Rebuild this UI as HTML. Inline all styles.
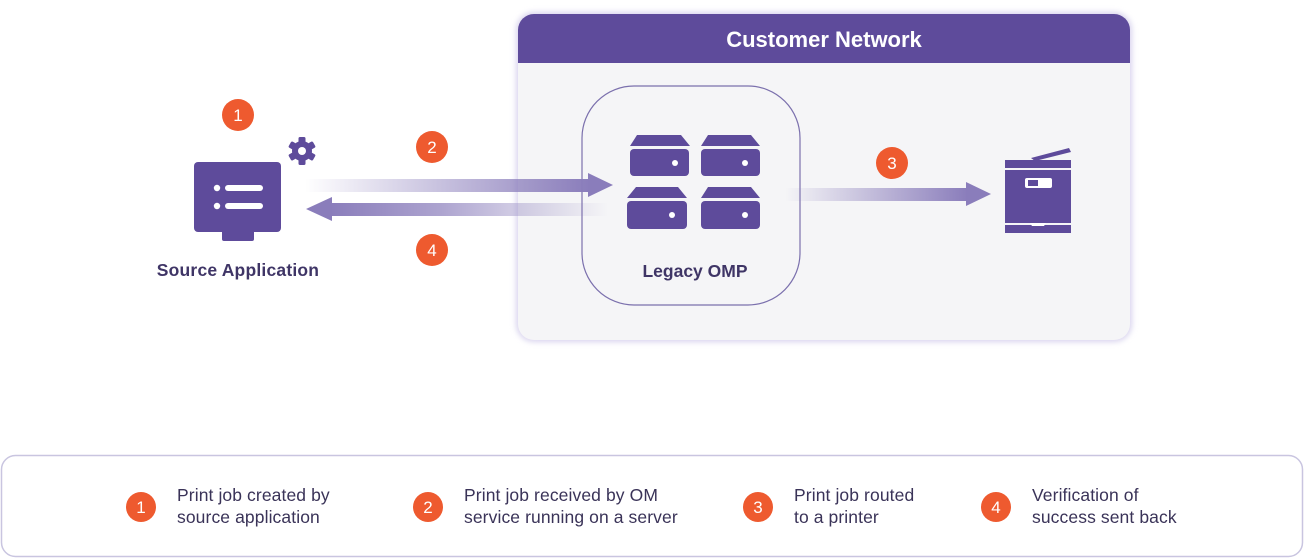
<!DOCTYPE html>
<html><head><meta charset="utf-8"><style>
html,body{margin:0;padding:0;background:#fff;}
svg{display:block;}
text{font-family:"Liberation Sans",sans-serif;}
</style></head><body>
<svg width="1304" height="559" viewBox="0 0 1304 559" xmlns="http://www.w3.org/2000/svg">
<defs>
<linearGradient id="gR" x1="0" x2="1" y1="0" y2="0"><stop offset="0" stop-color="#8a7dbb" stop-opacity="0"/><stop offset="1" stop-color="#8a7dbb"/></linearGradient>
<linearGradient id="gL" x1="1" x2="0" y1="0" y2="0"><stop offset="0" stop-color="#8a7dbb" stop-opacity="0"/><stop offset="0.6" stop-color="#8a7dbb" stop-opacity="0.7"/><stop offset="1" stop-color="#8a7dbb"/></linearGradient>
<filter id="sh" x="-5%" y="-5%" width="110%" height="110%"><feGaussianBlur stdDeviation="3"/></filter>
</defs>
<rect x="516" y="12" width="616" height="330" rx="18" fill="#d9d4ee" filter="url(#sh)"/>
<rect x="518" y="14" width="612" height="326" rx="16" fill="#f5f5f7"/>
<path d="M518 63 V30 a16 16 0 0 1 16 -16 H1114 a16 16 0 0 1 16 16 V63 Z" fill="#5e4b9b"/>
<text x="824" y="47" text-anchor="middle" font-size="22" font-weight="bold" fill="#fff">Customer Network</text>
<rect x="582" y="86" width="218" height="219" rx="52" fill="none" stroke="#7b70ad" stroke-width="1.2"/>
<g fill="#5e4b9b">
<path d="M637 135 H681 L690 146 H630 Z"/><rect x="630" y="149" width="59" height="27" rx="4"/>
<path d="M708 135 H751 L760 146 H701 Z"/><rect x="701" y="149" width="59" height="27" rx="4"/>
<path d="M636 187 H678 L687 198 H627 Z"/><rect x="627" y="201" width="60" height="28" rx="4"/>
<path d="M708 187 H751 L760 198 H701 Z"/><rect x="701" y="201" width="59" height="28" rx="4"/>
</g>
<g fill="#fff"><circle cx="675" cy="163" r="3"/><circle cx="745" cy="163" r="3"/><circle cx="672" cy="215" r="3"/><circle cx="745" cy="215" r="3"/></g>
<text x="695" y="277" text-anchor="middle" font-size="17.5" font-weight="bold" fill="#3f3566">Legacy OMP</text>
<rect x="305" y="179" width="285" height="13" fill="url(#gR)"/>
<path d="M588 173 L613 185 L588 197 Z" fill="#8a7dbb"/>
<rect x="330" y="203" width="278" height="13" fill="url(#gL)"/>
<path d="M332 197 L306 209 L332 221 Z" fill="#8a7dbb"/>
<rect x="785" y="188" width="183" height="13" fill="url(#gR)"/>
<path d="M966 182 L991 194 L966 206 Z" fill="#8a7dbb"/>
<g fill="#5e4b9b">
<path d="M1031 158 L1069 148 L1071 152 L1035 161 Z"/>
<rect x="1005" y="160" width="66" height="8"/>
<rect x="1005" y="170" width="66" height="53"/>
<rect x="1005" y="225" width="66" height="8"/>
</g>
<rect x="1025" y="178" width="27" height="10" rx="2" fill="#fff"/>
<rect x="1028" y="180" width="10" height="6" fill="#5e4b9b"/>
<path d="M1030 223 h16 l-2 3 h-12 z" fill="#fff"/>
<rect x="194" y="162" width="87" height="70" rx="4" fill="#5e4b9b"/>
<rect x="222" y="230" width="32" height="11" rx="2" fill="#5e4b9b"/>
<g fill="#fff"><circle cx="217" cy="188" r="3.2"/><circle cx="217" cy="206" r="3.2"/>
<rect x="225" y="185" width="38" height="6" rx="3"/><rect x="225" y="203" width="38" height="6" rx="3"/></g>
<g transform="translate(302,151)" fill="#5e4b9b">
<circle r="10"/>
<g><rect x="-3.5" y="-14" width="7" height="28" rx="1.5"/><rect x="-3.5" y="-14" width="7" height="28" rx="1.5" transform="rotate(60)"/><rect x="-3.5" y="-14" width="7" height="28" rx="1.5" transform="rotate(120)"/></g>
<circle r="4" fill="#fff"/>
</g>
<text x="238" y="276" text-anchor="middle" font-size="17.5" font-weight="bold" letter-spacing="0.2" fill="#3f3566">Source Application</text>
<g font-size="17" fill="#fff" text-anchor="middle">
<circle cx="238" cy="115" r="16" fill="#ee5a2f"/><text x="238" y="121">1</text>
<circle cx="432" cy="147" r="16" fill="#ee5a2f"/><text x="432" y="153">2</text>
<circle cx="432" cy="250" r="16" fill="#ee5a2f"/><text x="432" y="256">4</text>
<circle cx="892" cy="163" r="16" fill="#ee5a2f"/><text x="892" y="169">3</text>
</g>
<rect x="1.5" y="455.5" width="1301" height="101" rx="14" fill="#fff" stroke="#c9c5e0" stroke-width="1.5"/>
<g font-size="17" fill="#fff" text-anchor="middle">
<circle cx="141" cy="507" r="15" fill="#ee5a2f"/><text x="141" y="513">1</text>
<circle cx="428" cy="507" r="15" fill="#ee5a2f"/><text x="428" y="513">2</text>
<circle cx="758" cy="507" r="15" fill="#ee5a2f"/><text x="758" y="513">3</text>
<circle cx="996" cy="507" r="15" fill="#ee5a2f"/><text x="996" y="513">4</text>
</g>
<g font-size="17.5" fill="#3a3358" letter-spacing="0.1">
<text x="177" y="501">Print job created by</text><text x="177" y="523">source application</text>
<text x="464" y="501">Print job received by OM</text><text x="464" y="523">service running on a server</text>
<text x="794" y="501">Print job routed</text><text x="794" y="523">to a printer</text>
<text x="1032" y="501">Verification of</text><text x="1032" y="523">success sent back</text>
</g>
</svg>
</body></html>
